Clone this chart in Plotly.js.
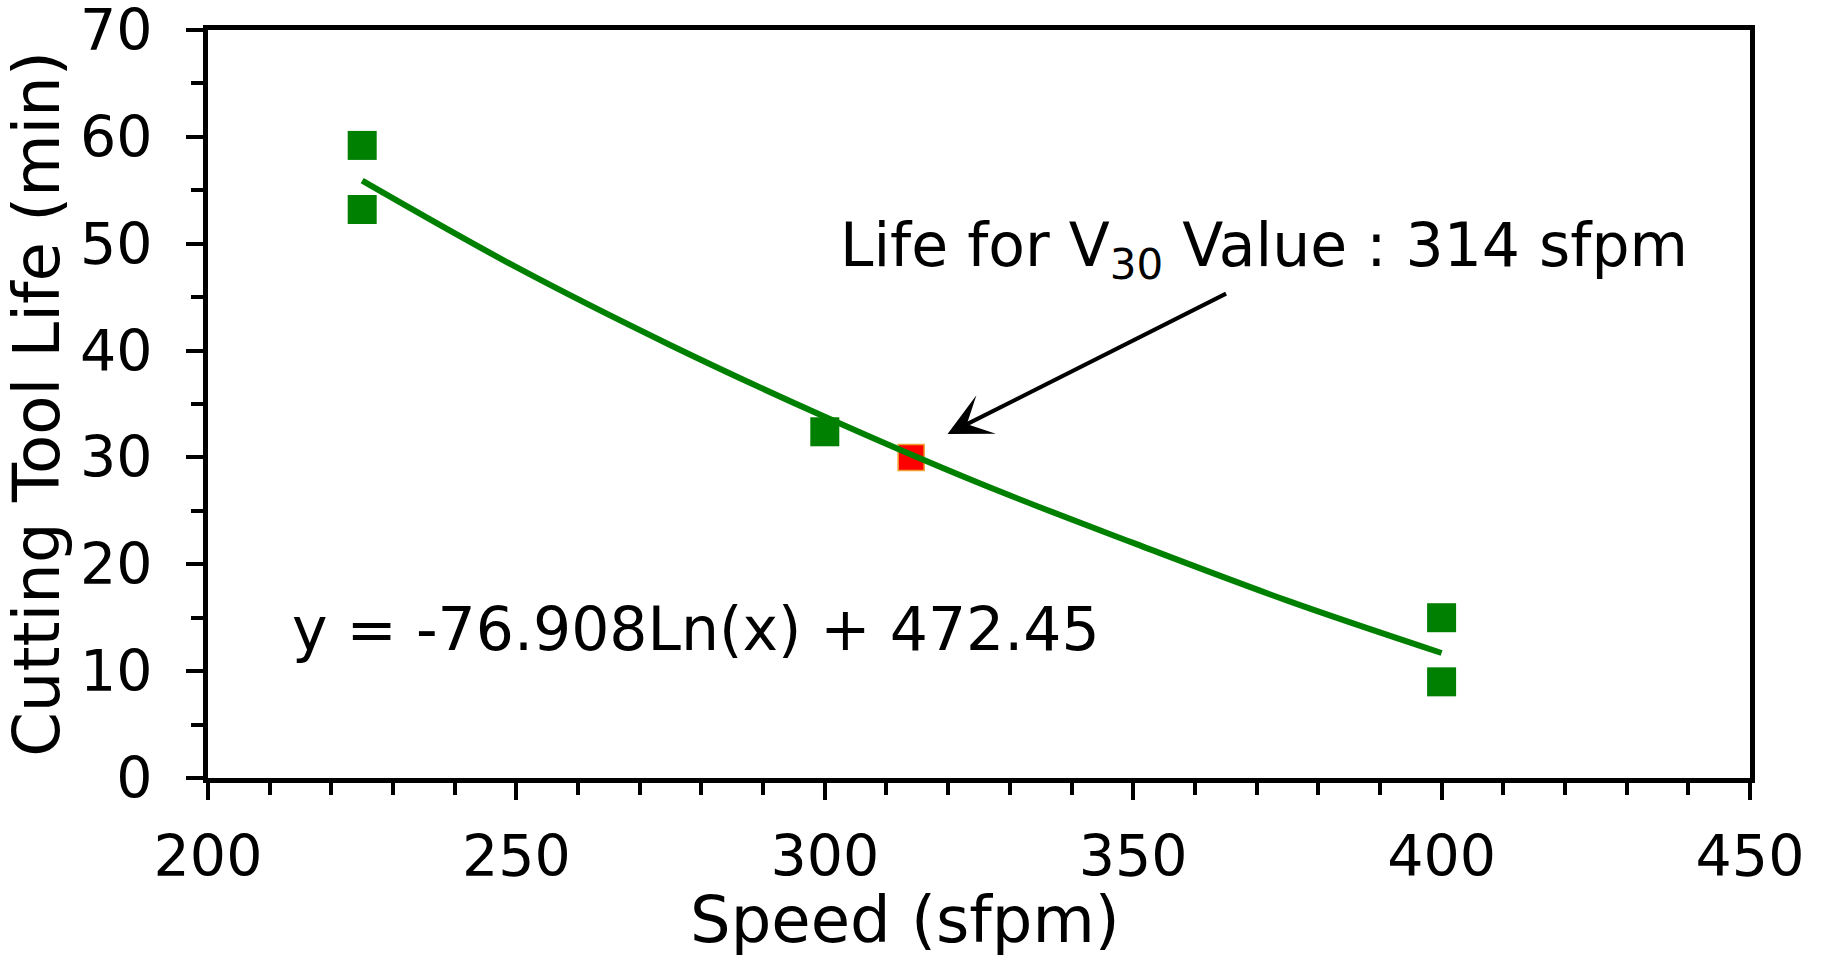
<!DOCTYPE html>
<html>
<head>
<meta charset="utf-8">
<script src="https://cdn.plot.ly/plotly-3.0.1.min.js"></script>
<style>
  html, body { margin: 0; padding: 0; background: #fff; }
  #chart { width: 1827px; height: 958px; }
</style>
</head>
<body>
<div id="chart"></div>
<script>
// Measured data points (Speed in sfpm, Tool life in min)
var speed = [225, 225, 300, 400, 400];
var life = [59.2, 53.2, 32.4, 15.0, 9.0];

// V30 point
var v30Speed = [314];
var v30Life = [30];

// Logarithmic trend line
var trendSpeed = [225, 250, 275, 300, 325, 350, 375, 400];
var trendLife = [55.9, 47.8, 40.5, 33.8, 27.6, 22.0, 16.6, 11.7];

// Tick values
var xTicks = [200, 250, 300, 350, 400, 450];
var yTicks = [0, 10, 20, 30, 40, 50, 60, 70];

// Text
var xTitle = 'Speed (sfpm)';
var yTitle = 'Cutting Tool Life (min)';
var eqText = 'y = -76.908Ln(x) + 472.45';
var noteText = 'Life for V<sub>30</sub> Value : 314 sfpm';

var FONT = 'DejaVu Sans, Verdana, sans-serif';

var traces = [
  {
    x: speed, y: life, type: 'scatter', mode: 'markers',
    marker: { symbol: 'square', size: 29, color: '#008000' },
    hoverinfo: 'skip', showlegend: false
  },
  {
    x: v30Speed, y: v30Life, type: 'scatter', mode: 'markers',
    marker: { symbol: 'square', size: 26, color: '#FF0000', line: { color: '#F0A030', width: 1.5 } },
    hoverinfo: 'skip', showlegend: false
  },
  {
    x: trendSpeed, y: trendLife, type: 'scatter', mode: 'lines',
    line: { color: '#008000', width: 6, shape: 'spline' },
    hoverinfo: 'skip', showlegend: false
  }
];

var layout = {
  width: 1827, height: 958,
  margin: { l: 208, r: 77, t: 30, b: 180 },
  paper_bgcolor: '#ffffff', plot_bgcolor: '#ffffff',
  font: { family: FONT, color: '#000000', size: 57 },
  xaxis: {
    range: [200, 450], tickmode: 'array', tickvals: xTicks, ticktext: xTicks.map(String),
    showgrid: false, zeroline: false,
    showline: true, linecolor: '#000000', linewidth: 5, mirror: true,
    ticks: 'outside', ticklen: 17, tickwidth: 4, tickcolor: '#000000',
    ticklabelstandoff: 8, ticklabeloverflow: 'allow',
    tickfont: { family: FONT, size: 57, color: '#000000' },
    minor: { ticks: 'outside', dtick: 10, tick0: 200, ticklen: 12, tickwidth: 4, tickcolor: '#000000', showgrid: false }
  },
  yaxis: {
    range: [0, 70], tickmode: 'array', tickvals: yTicks, ticktext: yTicks.map(String),
    showgrid: false, zeroline: false,
    showline: true, linecolor: '#000000', linewidth: 5, mirror: true,
    ticks: 'outside', ticklen: 17, tickwidth: 4, tickcolor: '#000000',
    ticklabelstandoff: 22, ticklabeloverflow: 'allow',
    tickfont: { family: FONT, size: 57, color: '#000000' },
    minor: { ticks: 'outside', dtick: 5, tick0: 0, ticklen: 12, tickwidth: 4, tickcolor: '#000000', showgrid: false },
    title: { text: yTitle, font: { family: FONT, size: 64, color: '#000000' }, standoff: 8 }
  },
  annotations: [
    {
      xref: 'paper', yref: 'paper', x: (905 - 208) / (1750 - 208), y: 0,
      yshift: -103, xanchor: 'center', yanchor: 'top',
      text: xTitle, showarrow: false,
      font: { family: FONT, size: 64, color: '#000000' }
    },
    {
      xref: 'x', yref: 'y', x: 279.1, y: 13.9, xanchor: 'center', yanchor: 'middle',
      text: eqText, showarrow: false,
      font: { family: FONT, size: 60, color: '#000000' }
    },
    {
      xref: 'x', yref: 'y', x: 371.2, y: 49.5, xanchor: 'center', yanchor: 'middle',
      text: noteText, showarrow: false,
      font: { family: FONT, size: 60, color: '#000000' }
    },
    {
      xref: 'x', yref: 'y', x: 319.9, y: 32.2,
      axref: 'x', ayref: 'y', ax: 365.3, ay: 45.4,
      text: '', showarrow: true, arrowhead: 3, arrowsize: 1.8, arrowwidth: 4,
      arrowcolor: '#000000', standoff: 0, startstandoff: 0
    }
  ]
};

Plotly.newPlot('chart', traces, layout, { staticPlot: true, displayModeBar: false });
</script>
</body>
</html>
